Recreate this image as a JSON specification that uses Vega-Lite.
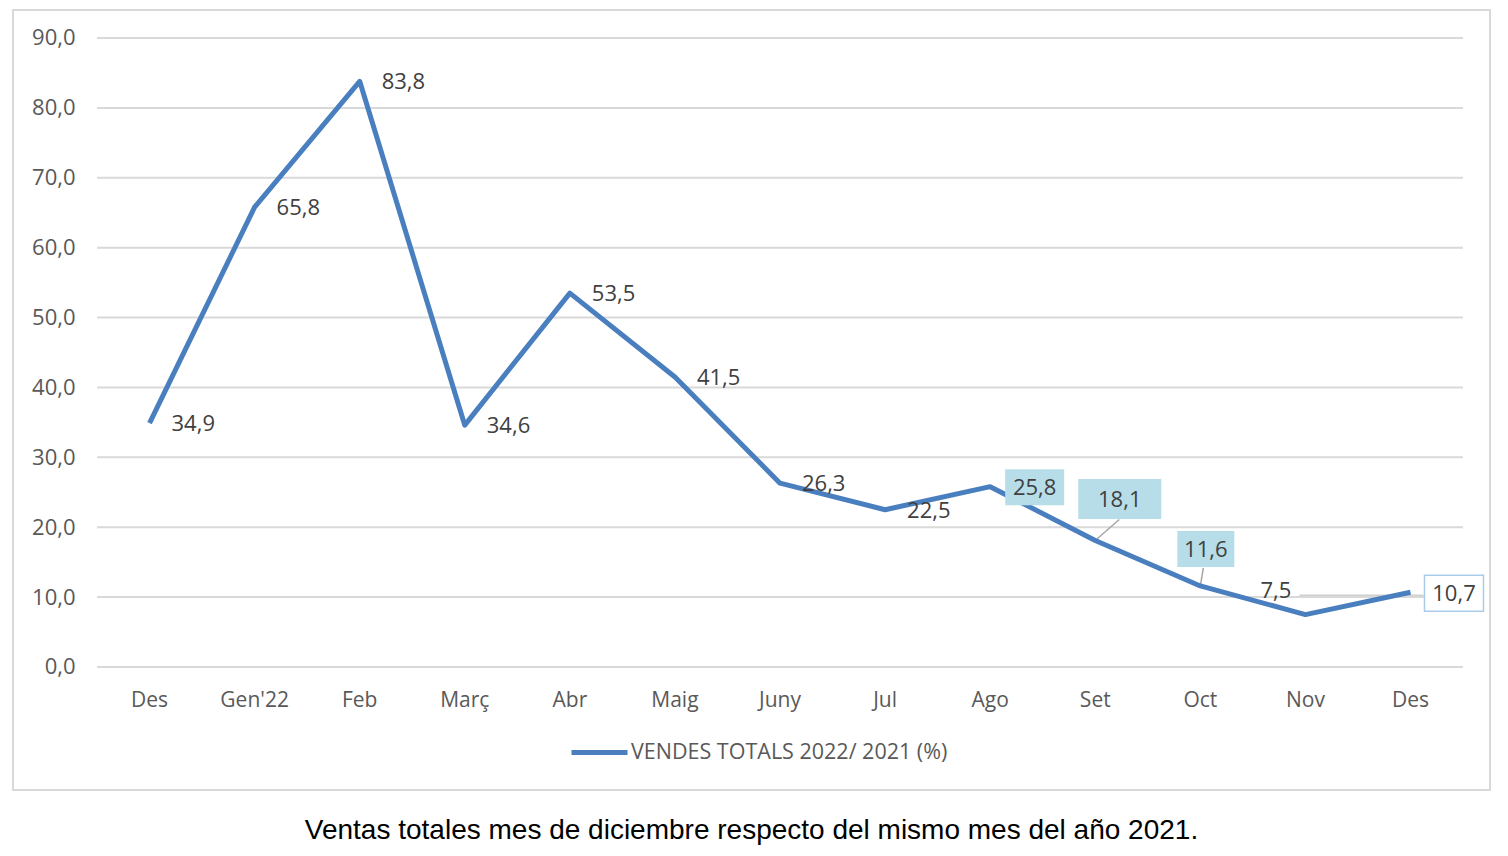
{
  "$schema": "https://vega.github.io/schema/vega-lite/v6.json",
  "width": 1477,
  "height": 780,
  "autosize": "none",
  "padding": {"left": 13, "top": 10, "right": 18, "bottom": 66},
  "background": "white",
  "config": {
    "locale": {"number": {"decimal": ",", "thousands": ".", "grouping": [3], "currency": ["", " €"]}},
    "view": {"stroke": "#d9d9d9", "strokeWidth": 2},
    "font": "Open Sans"
  },
  "title": {
    "text": "Ventas totales mes de diciembre respecto del mismo mes del año 2021.",
    "orient": "bottom",
    "anchor": "middle",
    "font": "Liberation Sans",
    "fontSize": 28,
    "fontWeight": "normal",
    "color": "#000000",
    "offset": 27
  },
  "datasets": {
    "main": [
      {"mes": "Des21", "v": 34.9},
      {"mes": "Gen'22", "v": 65.8},
      {"mes": "Feb", "v": 83.8},
      {"mes": "Març", "v": 34.6},
      {"mes": "Abr", "v": 53.5},
      {"mes": "Maig", "v": 41.5},
      {"mes": "Juny", "v": 26.3},
      {"mes": "Jul", "v": 22.5},
      {"mes": "Ago", "v": 25.8},
      {"mes": "Set", "v": 18.1},
      {"mes": "Oct", "v": 11.6},
      {"mes": "Nov", "v": 7.5},
      {"mes": "Des22", "v": 10.7}
    ],
    "grid": [
      {"v": 0}, {"v": 10}, {"v": 20}, {"v": 30}, {"v": 40},
      {"v": 50}, {"v": 60}, {"v": 70}, {"v": 80}, {"v": 90}
    ]
  },
  "data": {"name": "main"},
  "layer": [
    {
      "data": {"name": "grid"},
      "mark": {"type": "rule", "color": "#d9d9d9", "strokeWidth": 2, "xOffset": -52.5, "x2Offset": 52.5},
      "encoding": {
        "x": {"datum": "Des21", "type": "nominal"},
        "x2": {"datum": "Des22"},
        "y": {"field": "v", "type": "quantitative"}
      }
    },
    {
      "transform": [{"filter": "datum.mes == 'Set'"}],
      "mark": {"type": "rule", "color": "#a6a6a6", "strokeWidth": 1.5, "x2Offset": 24, "y2Offset": -21},
      "encoding": {
        "x": {"field": "mes", "type": "nominal"},
        "x2": {"field": "mes"},
        "y": {"field": "v", "type": "quantitative"},
        "y2": {"field": "v"}
      }
    },
    {
      "transform": [{"filter": "datum.mes == 'Oct'"}],
      "mark": {"type": "rule", "color": "#a6a6a6", "strokeWidth": 1.5, "x2Offset": 3, "y2Offset": -18},
      "encoding": {
        "x": {"field": "mes", "type": "nominal"},
        "x2": {"field": "mes"},
        "y": {"field": "v", "type": "quantitative"},
        "y2": {"field": "v"}
      }
    },
    {
      "transform": [{"filter": "datum.mes == 'Des22'"}],
      "mark": {"type": "rule", "color": "#d0d0d0", "strokeWidth": 1.5, "xOffset": -6, "x2Offset": 13, "yOffset": 3},
      "encoding": {
        "x": {"datum": "Nov", "type": "nominal"},
        "x2": {"datum": "Des22"},
        "y": {"field": "v", "type": "quantitative"}
      }
    },
    {
      "mark": {"type": "line", "strokeWidth": 5, "strokeJoin": "round", "strokeCap": "butt"},
      "encoding": {
        "x": {
          "field": "mes",
          "type": "nominal",
          "scale": {
            "type": "band",
            "domain": ["Des21", "Gen'22", "Feb", "Març", "Abr", "Maig", "Juny", "Jul", "Ago", "Set", "Oct", "Nov", "Des22"],
            "paddingInner": 0,
            "paddingOuter": 0.528,
            "align": 0.757
          },
          "axis": {
            "title": null,
            "labelExpr": "slice(datum.value, 0, 3) == 'Des' ? 'Des' : datum.value",
            "labelAngle": 0,
            "labelAlign": "center",
            "labelFont": "Open Sans",
            "labelFontSize": 21,
            "labelColor": "#595959",
            "labelBaseline": "middle",
            "labelPadding": 12,
            "ticks": false,
            "tickSize": 0,
            "domain": false,
            "grid": false,
            "offset": -102
          }
        },
        "y": {
          "field": "v",
          "type": "quantitative",
          "scale": {"domain": [-17.6, 94.006], "nice": false, "zero": false},
          "axis": {
            "title": null,
            "values": [0, 10, 20, 30, 40, 50, 60, 70, 80, 90],
            "format": ".1f",
            "labelFont": "Open Sans",
            "labelFontSize": 22,
            "labelColor": "#595959",
            "labelPadding": 0,
            "ticks": false,
            "tickSize": 0,
            "domain": false,
            "grid": false,
            "offset": -62
          }
        },
        "color": {
          "datum": "VENDES TOTALS 2022/ 2021 (%)",
          "type": "nominal",
          "scale": {"range": ["#4a7fbf"]},
          "legend": {
            "title": null,
            "orient": "none",
            "legendX": 556,
            "legendY": 712,
            "padding": 0,
            "symbolType": "stroke",
            "symbolSize": 3136,
            "symbolStrokeWidth": 5,
            "labelFont": "Open Sans",
            "labelFontSize": 21.5,
            "labelColor": "#595959",
            "labelOffset": 1,
            "labelLimit": 0
          }
        }
      }
    },
    {
      "transform": [{"filter": "datum.mes == 'Ago'"}],
      "mark": {"type": "point", "shape": "M-1,-0.61H1V0.61H-1Z", "size": 3481, "filled": true, "color": "#b7dee8", "opacity": 1, "strokeWidth": 0, "xOffset": 44.5, "yOffset": 0.5},
      "encoding": {
        "x": {"field": "mes", "type": "nominal"},
        "y": {"field": "v", "type": "quantitative"}
      }
    },
    {
      "transform": [{"filter": "datum.mes == 'Set'"}],
      "mark": {"type": "point", "shape": "M-1,-0.482H1V0.482H-1Z", "size": 6889, "filled": true, "color": "#b7dee8", "opacity": 1, "strokeWidth": 0, "xOffset": 24.5, "yOffset": -41.5},
      "encoding": {
        "x": {"field": "mes", "type": "nominal"},
        "y": {"field": "v", "type": "quantitative"}
      }
    },
    {
      "transform": [{"filter": "datum.mes == 'Oct'"}],
      "mark": {"type": "point", "shape": "M-1,-0.632H1V0.632H-1Z", "size": 3249, "filled": true, "color": "#b7dee8", "opacity": 1, "strokeWidth": 0, "xOffset": 5.5, "yOffset": -37},
      "encoding": {
        "x": {"field": "mes", "type": "nominal"},
        "y": {"field": "v", "type": "quantitative"}
      }
    },
    {
      "transform": [{"filter": "datum.mes == 'Des22'"}],
      "mark": {"type": "point", "shape": "M-1,-0.61H1V0.61H-1Z", "size": 3481, "filled": true, "fill": "#ffffff", "stroke": "#a9cbe9", "strokeWidth": 1.5, "opacity": 1, "xOffset": 43.5, "yOffset": 1},
      "encoding": {
        "x": {"field": "mes", "type": "nominal"},
        "y": {"field": "v", "type": "quantitative"}
      }
    },
    {
      "transform": [{"filter": "indexof(['Ago','Set','Oct','Nov','Des22'], datum.mes) < 0"}],
      "mark": {"type": "text", "align": "left", "baseline": "middle", "dx": 22, "dy": 1, "font": "Open Sans", "fontSize": 22, "color": "#404040"},
      "encoding": {
        "x": {"field": "mes", "type": "nominal"},
        "y": {"field": "v", "type": "quantitative"},
        "text": {"field": "v", "type": "quantitative", "format": ".1f"}
      }
    },
    {
      "transform": [{"filter": "datum.mes == 'Nov'"}],
      "mark": {"type": "text", "align": "center", "baseline": "middle", "dx": -29.5, "dy": -23.5, "font": "Open Sans", "fontSize": 22, "color": "#404040"},
      "encoding": {
        "x": {"field": "mes", "type": "nominal"},
        "y": {"field": "v", "type": "quantitative"},
        "text": {"field": "v", "type": "quantitative", "format": ".1f"}
      }
    },
    {
      "transform": [{"filter": "datum.mes == 'Ago'"}],
      "mark": {"type": "text", "align": "center", "baseline": "middle", "dx": 44.5, "dy": 1.5, "font": "Open Sans", "fontSize": 22, "color": "#404040"},
      "encoding": {
        "x": {"field": "mes", "type": "nominal"},
        "y": {"field": "v", "type": "quantitative"},
        "text": {"field": "v", "type": "quantitative", "format": ".1f"}
      }
    },
    {
      "transform": [{"filter": "datum.mes == 'Set'"}],
      "mark": {"type": "text", "align": "center", "baseline": "middle", "dx": 24.5, "dy": -40.5, "font": "Open Sans", "fontSize": 22, "color": "#404040"},
      "encoding": {
        "x": {"field": "mes", "type": "nominal"},
        "y": {"field": "v", "type": "quantitative"},
        "text": {"field": "v", "type": "quantitative", "format": ".1f"}
      }
    },
    {
      "transform": [{"filter": "datum.mes == 'Oct'"}],
      "mark": {"type": "text", "align": "center", "baseline": "middle", "dx": 5.5, "dy": -36, "font": "Open Sans", "fontSize": 22, "color": "#404040"},
      "encoding": {
        "x": {"field": "mes", "type": "nominal"},
        "y": {"field": "v", "type": "quantitative"},
        "text": {"field": "v", "type": "quantitative", "format": ".1f"}
      }
    },
    {
      "transform": [{"filter": "datum.mes == 'Des22'"}],
      "mark": {"type": "text", "align": "center", "baseline": "middle", "dx": 43.5, "dy": 2, "font": "Open Sans", "fontSize": 22, "color": "#404040"},
      "encoding": {
        "x": {"field": "mes", "type": "nominal"},
        "y": {"field": "v", "type": "quantitative"},
        "text": {"field": "v", "type": "quantitative", "format": ".1f"}
      }
    }
  ]
}
